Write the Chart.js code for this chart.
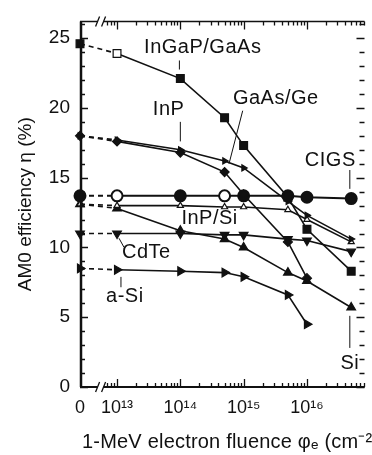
<!DOCTYPE html>
<html>
<head>
<meta charset="utf-8">
<script src="https://cdn.jsdelivr.net/npm/chart.js@4.4.1/dist/chart.umd.min.js"></script>
<style>
  html, body { margin: 0; padding: 0; background: #fff; }
  #wrap { width: 372px; height: 455px; }
</style>
</head>
<body>
<div id="wrap"><canvas id="c" width="372" height="455"></canvas></div>
<script>
// 1-MeV electron fluence (cm^-2); 0 is the unirradiated cell, drawn left of the axis break
const fluence = [0, 1e13, 1e14, 5e14, 1e15, 5e15, 1e16, 5e16];

// AM0 efficiency (%) per cell technology
const ingapGaas = [24.6, 23.9, 22.1, 19.3, 17.3, 13.6, 11.3, 8.3];
const gaasGe    = [18.0, 17.6, 16.8, 15.4, 13.8, 10.4, 7.8, null];
const inp       = [18.0, 17.7, 17.0, 16.2, 15.7, 13.3, 12.3, 10.6];
const cigs      = [13.7, 13.7, 13.7, 13.7, 13.7, 13.7, 13.6, 13.5];
const inpSi     = [13.1, 13.0, 13.0, 12.9, 12.9, 12.7, 12.0, 10.4];
const si        = [13.1, 12.8, 11.2, 10.6, 10.0, 8.2, 7.6, 5.7];
const cdte      = [11.0, 11.0, 11.0, 10.9, 10.9, 10.6, 10.5, 9.7];
const aSi       = [8.5, 8.4, 8.3, 8.2, 7.9, 6.6, 4.5, null];

// axis tick labels
const yTickValues = [0, 5, 10, 15, 20, 25];
const xTickExponents = [13, 14, 15, 16];

const X_ZERO = Math.pow(10, 12.415);   // position used for fluence = 0
const X_MAX = Math.pow(10, 16.909);
const X_BREAK = Math.pow(10, 12.74);
const Y_MAX = 26.2;

const INK = '#111';
const FONT = '"Liberation Sans", Arial, Helvetica, sans-serif';
const SUP = {'0':'⁰','1':'¹','2':'²','3':'³','4':'⁴','5':'⁵','6':'⁶','7':'⁷','8':'⁸','9':'⁹','-':'⁻'};
const sup = s => String(s).split('').map(c => SUP[c] || c).join('');

function points(values) {
  const out = [];
  values.forEach((v, i) => {
    if (v !== null) out.push({x: fluence[i] === 0 ? X_ZERO : fluence[i], y: v});
  });
  return out;
}

// dashed across the axis break, solid elsewhere
const breakSegment = { borderDash: ctx => ctx.p0DataIndex === 0 ? [5, 4] : undefined };

function series(label, values, style) {
  return Object.assign({
    label,
    data: points(values),
    borderColor: INK,
    borderWidth: 1.6,
    pointBorderColor: INK,
    pointBackgroundColor: INK,
    pointBorderWidth: 1.2,
    tension: 0,
    segment: breakSegment,
    clip: false
  }, style);
}

const openAt = (idxs, n) => Array.from({length: n}, (_, i) => idxs.includes(i) ? '#fff' : INK);

const datasets = [
  series('InGaP/GaAs', ingapGaas, {pointStyle: 'rect', pointRadius: 5.5, pointBackgroundColor: openAt([1], 8)}),
  series('GaAs/Ge', gaasGe, {pointStyle: 'rectRot', pointRadius: 4.5}),
  series('InP', inp, {pointStyle: 'triangle', pointRotation: 90, pointRadius: 3.5}),
  series('CIGS', cigs, {pointStyle: 'circle', pointRadius: 5.5, pointBorderWidth: 2, borderWidth: 2, pointBackgroundColor: openAt([1, 3], 8)}),
  series('InP/Si', inpSi, {pointStyle: 'triangle', pointRadius: 3.5, pointBackgroundColor: '#fff'}),
  series('Si', si, {pointStyle: 'triangle', pointRadius: 5}),
  series('CdTe', cdte, {pointStyle: 'triangle', pointRotation: 180, pointRadius: 5}),
  series('a-Si', aSi, {pointStyle: 'triangle', pointRotation: 90, pointRadius: 5})
];

// curve labels with their leader lines, in data coordinates (log10 fluence, efficiency)
const curveLabels = [
  {text: 'InGaP/GaAs', at: [14.354, 24.3], leader: [[13.985, 23.4], [13.985, 22.75]]},
  {text: 'InP',        at: [13.815, 19.86], leader: [[14.0, 19.0], [14.0, 17.6]]},
  {text: 'GaAs/Ge',    at: [15.508, 20.69], leader: [[14.985, 19.8], [14.769, 16.0]]},
  {text: 'CIGS',       at: [16.369, 16.26], leader: [[16.677, 15.55], [16.677, 14.2]]},
  {text: 'InP/Si',     at: [14.462, 12.11], leader: null},
  {text: 'CdTe',       at: [13.462, 9.62],  leader: [[13.031, 10.66], [13.108, 10.03]]},
  {text: 'a-Si',       at: [13.123, 6.5],   leader: [[13.062, 7.89], [13.062, 7.15]]},
  {text: 'Si',         at: [16.677, 1.66],  leader: [[16.677, 5.1], [16.677, 2.8]]}
];
const xTitle = '1-MeV electron fluence φₑ (cm' + sup('-2') + ')';

const framePlugin = {
  id: 'frame',
  afterDraw(chart) {
    const {ctx, chartArea: a, scales: {x, y}} = chart;
    ctx.save();
    ctx.strokeStyle = INK;
    ctx.lineCap = 'butt';

    // frame: left, bottom, top
    ctx.lineWidth = 2.5;
    ctx.beginPath(); ctx.moveTo(a.left + 1, a.top); ctx.lineTo(a.left + 1, a.bottom); ctx.stroke();
    ctx.lineWidth = 2;
    ctx.beginPath(); ctx.moveTo(a.left, a.bottom); ctx.lineTo(a.right, a.bottom); ctx.stroke();
    ctx.lineWidth = 1.5;
    ctx.beginPath(); ctx.moveTo(a.left, a.top); ctx.lineTo(a.right, a.top); ctx.stroke();

    // y ticks, inward on left and right
    ctx.lineWidth = 1.3;
    for (let v = 0; v <= 26; v++) {
      const py = Math.round(y.getPixelForValue(v)) + 0.5;
      const len = v % 5 === 0 ? 8 : 5;
      ctx.beginPath();
      ctx.moveTo(a.left, py); ctx.lineTo(a.left + len, py);
      ctx.moveTo(a.right, py); ctx.lineTo(a.right - len, py);
      ctx.stroke();
    }

    // x ticks, inward on bottom and top (log minor ticks)
    const bx = x.getPixelForValue(X_BREAK);
    for (let d = 12; d <= 16; d++) {
      for (let m = 1; m <= 9; m++) {
        const v = m * Math.pow(10, d);
        if (v > X_MAX) continue;
        const px = Math.round(x.getPixelForValue(v)) + 0.5;
        if (px < bx + 5) continue;
        const len = m === 1 ? 8 : 4;
        ctx.beginPath();
        ctx.moveTo(px, a.bottom); ctx.lineTo(px, a.bottom - len);
        ctx.moveTo(px, a.top); ctx.lineTo(px, a.top + len);
        ctx.stroke();
      }
    }

    // axis break marks
    [a.bottom, a.top].forEach(py => {
      ctx.fillStyle = '#fff';
      ctx.fillRect(bx - 3, py - 3, 6, 6);
      ctx.lineWidth = 1.3;
      ctx.beginPath();
      ctx.moveTo(bx - 5, py + 5); ctx.lineTo(bx - 1, py - 5);
      ctx.moveTo(bx + 1, py + 5); ctx.lineTo(bx + 5, py - 5);
      ctx.stroke();
    });

    // curve labels
    ctx.fillStyle = INK;
    ctx.font = '20px ' + FONT;
    ctx.letterSpacing = '0.5px';
    ctx.textAlign = 'center';
    ctx.textBaseline = 'middle';
    ctx.lineWidth = 1;
    const P = ([lx, ly]) => [x.getPixelForValue(Math.pow(10, lx)), y.getPixelForValue(ly)];
    curveLabels.forEach(l => {
      const [tx, ty] = P(l.at);
      ctx.fillText(l.text, tx, ty);
      if (l.leader) {
        const [p0, p1] = l.leader.map(P);
        ctx.beginPath(); ctx.moveTo(p0[0], p0[1]); ctx.lineTo(p1[0], p1[1]); ctx.stroke();
      }
    });

    // x axis title, running off the right edge
    ctx.font = '20px ' + FONT;
    ctx.letterSpacing = '0.2px';
    ctx.textAlign = 'left';
    ctx.fillText(xTitle, a.left + 2, 442);
    ctx.restore();
  }
};

const bgPlugin = {
  id: 'bg',
  beforeDraw(chart) {
    const {ctx, width, height} = chart;
    ctx.save(); ctx.fillStyle = '#fff'; ctx.fillRect(0, 0, width, height); ctx.restore();
  }
};

new Chart(document.getElementById('c'), {
  type: 'line',
  data: { datasets },
  plugins: [bgPlugin, framePlugin],
  options: {
    responsive: false,
    devicePixelRatio: 1,
    animation: false,
    layout: { padding: { top: 8, right: 0, left: 0, bottom: 0 } },
    plugins: { legend: { display: false }, tooltip: { enabled: false } },
    scales: {
      x: {
        type: 'logarithmic',
        min: X_ZERO,
        max: X_MAX,
        grid: { display: false, drawTicks: false },
        border: { display: false },
        afterBuildTicks: s => { s.ticks = [X_ZERO].concat(xTickExponents.map(e => Math.pow(10, e))).map(v => ({value: v})); },
        afterFit: s => { s.height = 68; },
        ticks: {
          autoSkip: false, maxRotation: 0, padding: 10, color: INK,
          font: { family: FONT, size: 18 },
          callback: (v, i) => i === 0 ? '0' : '10' + sup(xTickExponents[i - 1])
        }
      },
      y: {
        type: 'linear',
        min: 0,
        max: Y_MAX,
        grid: { display: false, drawTicks: false },
        border: { display: false },
        afterBuildTicks: s => { s.ticks = yTickValues.map(v => ({value: v})); },
        afterFit: s => { s.width = 80; },
        ticks: { padding: 10, color: INK, font: { family: FONT, size: 19 } },
        title: {
          display: true, text: 'AM0 efficiency η (%)', color: INK,
          font: { family: FONT, size: 19 }, padding: { top: 14, bottom: 0 }
        }
      }
    }
  }
});
</script>
</body>
</html>
